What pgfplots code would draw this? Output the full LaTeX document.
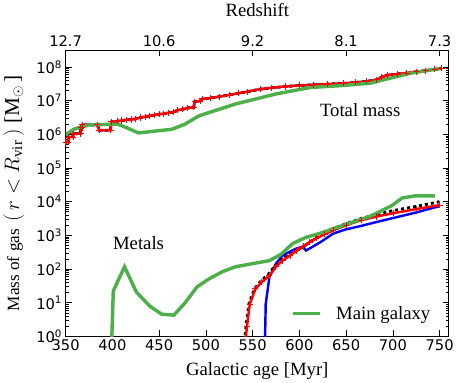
\documentclass[border=0pt]{standalone}
\usepackage{pgfplots}
\pgfplotsset{compat=1.18}
\usepackage{pgfplotstable}
\usepackage{fontspec}
\setmainfont{Liberation Serif}
\newfontfamily\dejavu{DejaVu Sans}
\definecolor{mplgreen}{HTML}{4DAF4A}
\newcommand\ticks{\fontsize{14.5}{17}\dejavu}
\newcommand\lab{\fontsize{18.5}{22}\selectfont}

% total gas mass (step curve), Myr vs Msun
\pgfplotstableread{
x y
350 5.89e5
353 5.89e5
353 8.32e5
358 8.32e5
358 1.05e6
366 1.05e6
366 1.58e6
368 1.58e6
368 1.91e6
384 1.91e6
386 1.32e6
398 1.32e6
399 2.34e6
405 2.45e6
410 2.57e6
415 2.69e6
420 2.75e6
425 2.88e6
430 3.16e6
435 3.31e6
440 3.55e6
445 3.72e6
450 3.98e6
455 4.07e6
460 4.37e6
465 4.47e6
470 5.25e6
475 5.50e6
480 6.03e6
487 6.31e6
488 9.33e6
494 9.77e6
496 1.12e7
505 1.20e7
515 1.32e7
525 1.48e7
535 1.66e7
545 1.86e7
558 2.19e7
570 2.40e7
585 2.63e7
600 2.82e7
615 2.95e7
630 3.09e7
647 3.24e7
660 3.47e7
672 3.72e7
683 4.17e7
688 5.01e7
694 5.75e7
705 6.17e7
715 6.61e7
725 7.24e7
735 7.76e7
745 8.51e7
752 9.12e7
}\totalmass

\pgfplotstableread{
x y
350 9.55e5
358.6 1.41e6
374 1.91e6
406 2.00e6
415 1.58e6
428 1.10e6
463.5 1.41e6
477.6 2.00e6
492.7 3.55e6
531.6 7.94e6
574.9 1.58e7
611.6 2.45e7
647 2.82e7
676 3.31e7
690 4.17e7
720 6.61e7
750 8.91e7
}\totalgal

\pgfplotstableread{
x y
541 0.316
544 2.0
547 9.12
553 25.7
560 41.7
568 63.1
575 117
582 178
590 251
597 355
604 468
611 631
618 813
627 1072
636 1413
650 1995
666 2818
683 3631
701 4571
725 6026
750 7943
}\metalsred

\pgfplotstableread{
x y
540 0.316
543 2.0
546 9.12
552 25.7
559 44.7
567 70.8
574 126
581 191
589 263
597 355
604 457
618 851
636 1585
650 2239
666 3162
683 4169
701 5495
725 7244
750 10000
}\metalsblack

\pgfplotstableread{
x y
563 0.316
564 9.12
568 58.9
575 145
582 251
588 309
596 398
604 468
607 355
614 457
622 617
636 1122
650 1514
666 1905
683 2512
701 3311
725 4786
750 7413
}\metalsblue

\pgfplotstableread{
x y
396 0.001
401 22.4
413 117
425.6 20.9
440 7.94
452.7 4.57
465.7 4.27
477.6 9.77
490.5 29.5
503.5 51.3
517.6 83.2
531.6 117
550 145
568 178
580 269
593 575
607 871
622 1148
647 1995
676 3715
698 7413
710 12882
723 14791
745 14791
}\metalsgal

\begin{document}
\begin{tikzpicture}
\begin{axis}[
  scale only axis,
  width=379pt, height=283pt,
  xmin=350, xmax=760,
  ymode=log, ymin=1, ymax=3.16e8,
  xtick={350,400,...,750},
  xtick pos=left,
  /pgf/number format/assume math mode=true,
  ytickten={0,...,8},
  yticklabels={10\textsuperscript{0},10\textsuperscript{1},10\textsuperscript{2},10\textsuperscript{3},10\textsuperscript{4},10\textsuperscript{5},10\textsuperscript{6},10\textsuperscript{7},10\textsuperscript{8}},
  tick align=inside,
  major tick length=6pt, minor tick length=3pt,
  tick style={black, line width=0.7pt},
  axis line style={line width=1pt},
  xticklabel style={font=\ticks},
  yticklabel style={font=\ticks},
  xlabel={Galactic age [Myr]},
  xlabel style={font=\lab, at={(axis description cs:0.5,-0.12)}, anchor=center},
  ylabel={{\fontsize{17}{20}\selectfont Mass of gas}\,{\fontsize{21}{24}\selectfont$\;(\,r<R_{\mathrm{vir}}\,)\;$[M$_{\odot}\,$]}},
  ylabel style={at={(axis description cs:-0.135,0.5)}, anchor=center},
  legend style={at={(0.965,0.04)}, anchor=south east, draw=none, fill=none,
    font=\lab, legend cell align=left},
  legend image code/.code={\draw[#1, line width=3.5pt] (0pt,0pt) -- (27pt,0pt);},
  clip=true,
]
% total mass
\addplot[blue, line width=2.2pt, forget plot] table {\totalmass};
\addplot[black, dashed, line width=2.8pt, forget plot] table {\totalmass};
\addplot[red, line width=2.4pt, mark=+, mark size=3pt, mark options={solid, line width=1pt}, forget plot] table {\totalmass};
\addplot[mplgreen, line width=3.4pt, forget plot] table {\totalgal};
% metals
\addplot[blue, line width=2.4pt, forget plot] table {\metalsblue};
\addplot[black, dashed, line width=2.8pt, forget plot] table {\metalsblack};
\addplot[red, line width=2.4pt, mark=+, mark size=3pt, mark options={solid, line width=1pt}, forget plot] table {\metalsred};
\addplot[mplgreen, line width=3.4pt] table {\metalsgal};
\addlegendentry{\hspace{12pt}Main galaxy}
\node[font=\lab] at (axis cs:665,5.4e6) {Total mass};
\node[font=\lab] at (axis cs:428,575) {Metals};
\end{axis}
\begin{axis}[
  scale only axis,
  width=379pt, height=283pt,
  xmin=350, xmax=760,
  ymode=log, ymin=1, ymax=3.16e8,
  axis x line*=top, axis y line=none,
  xtick={350,450,550,650,750},
  xticklabels={12.7,10.6,9.2,8.1,7.3},
  tick align=inside,
  major tick length=6pt,
  tick style={black, line width=0.7pt},
  axis line style={line width=1pt},
  xticklabel style={font=\ticks},
  xlabel={Redshift},
  xlabel style={font=\lab, at={(axis description cs:0.5,1.14)}, anchor=center},
]
\end{axis}
\end{tikzpicture}
\end{document}
